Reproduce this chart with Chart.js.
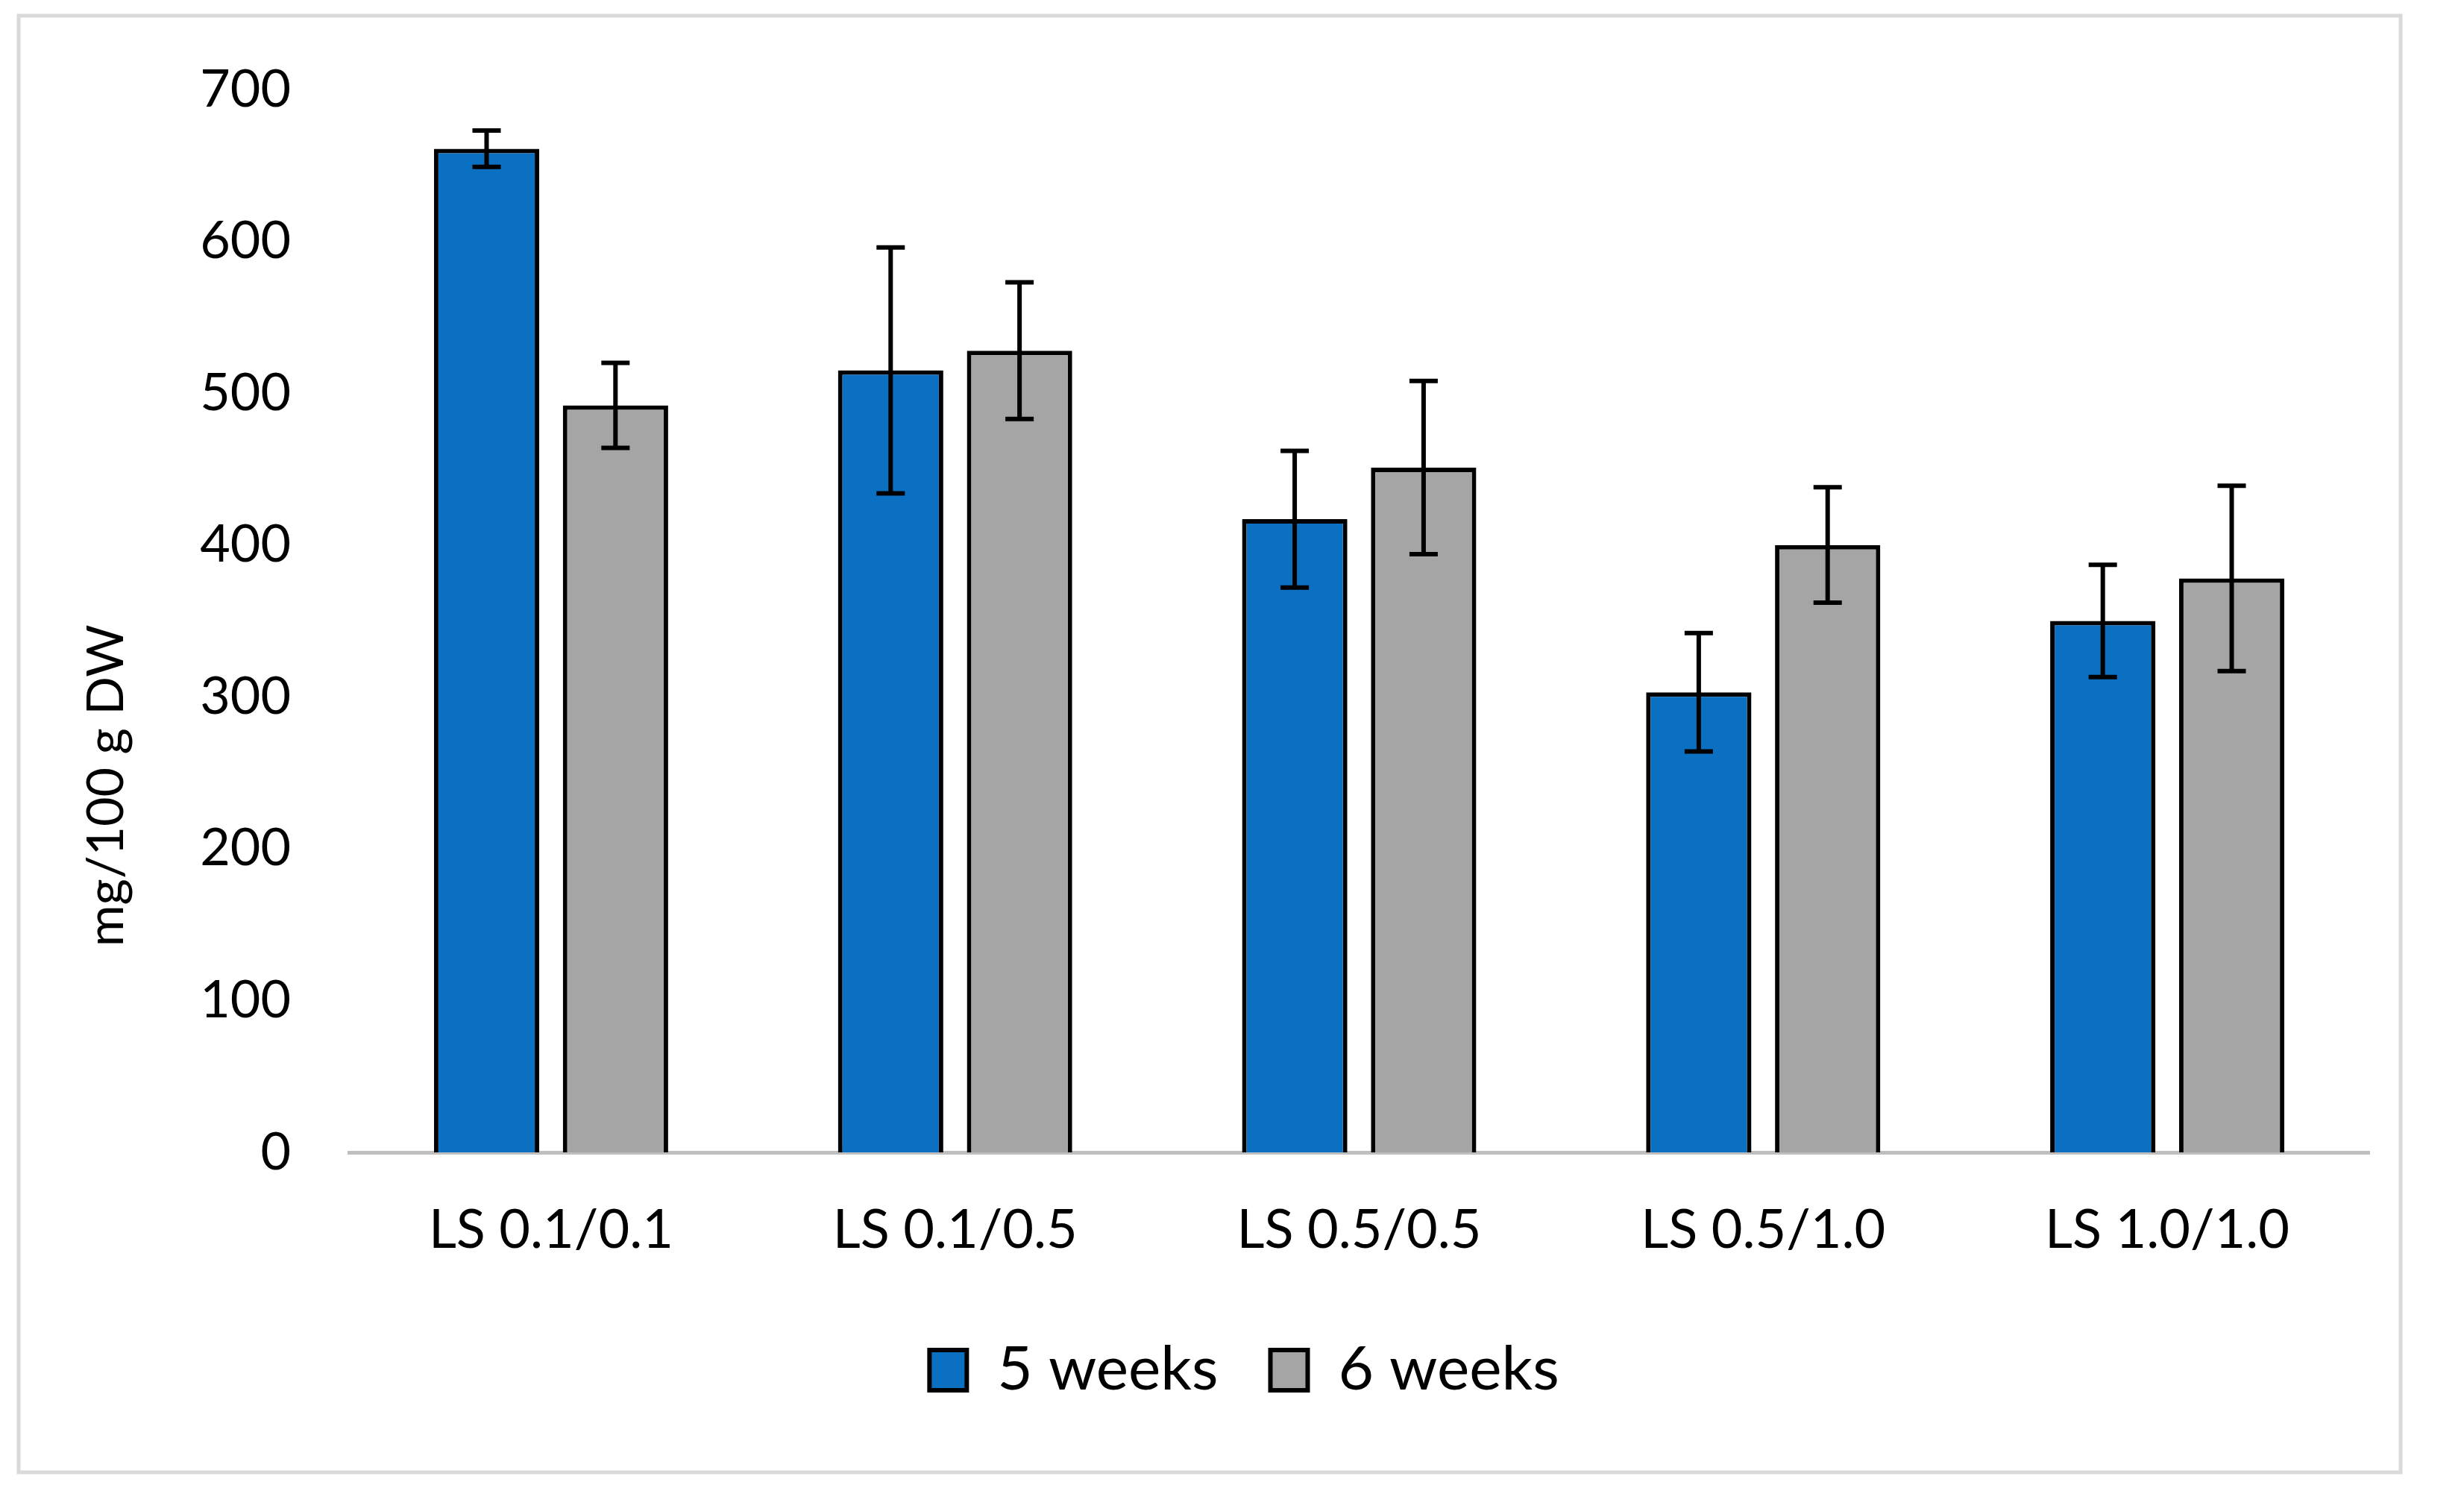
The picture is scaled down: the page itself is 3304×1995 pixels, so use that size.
<!DOCTYPE html>
<html>
<head>
<meta charset="utf-8">
<script src="https://cdn.jsdelivr.net/npm/chart.js@4.4.1/dist/chart.umd.min.js"></script>
<style>
  html, body { margin: 0; padding: 0; background: #fff; }
  canvas { display: block; }
</style>
</head>
<body>
<canvas id="chart" width="3304" height="1995"></canvas>
<script>
// Data
const categories = ['LS 0.1/0.1', 'LS 0.1/0.5', 'LS 0.5/0.5', 'LS 0.5/1.0', 'LS 1.0/1.0'];
const weeks5 = [661, 515, 417, 303, 350];
const weeks5Err = [12, 81, 45, 39, 37];
const weeks6 = [492, 528, 451, 400, 378];
const weeks6Err = [28, 45, 57, 38, 61];
const yMin = 0;
const yMax = 700;
const yStep = 100;
const yTitle = 'mg/100 g DW';

const FONT = 'Lato, "Open Sans", sans-serif';

// Light grey frame round the whole chart
const framePlugin = {
    id: 'frame',
    beforeDraw(chart) {
        const ctx = chart.ctx;
        ctx.save();
        ctx.fillStyle = '#fff';
        ctx.fillRect(0, 0, chart.width, chart.height);
        ctx.strokeStyle = '#d9d9d9';
        ctx.lineWidth = 5;
        ctx.strokeRect(25, 21, 3194, 1953);
        ctx.restore();
    }
};

// Error bars from the err arrays
const errorBarPlugin = {
    id: 'errorBars',
    afterDatasetsDraw(chart) {
        const ctx = chart.ctx;
        const y = chart.scales.y;
        ctx.save();
        ctx.strokeStyle = '#000';
        ctx.lineWidth = 6;
        chart.data.datasets.forEach((ds, i) => {
            const meta = chart.getDatasetMeta(i);
            meta.data.forEach((bar, j) => {
                const v = ds.data[j];
                const e = ds.errors[j];
                const top = y.getPixelForValue(v + e);
                const bottom = y.getPixelForValue(v - e);
                const cap = 19;
                ctx.beginPath();
                ctx.moveTo(bar.x, top);
                ctx.lineTo(bar.x, bottom);
                ctx.moveTo(bar.x - cap, top);
                ctx.lineTo(bar.x + cap, top);
                ctx.moveTo(bar.x - cap, bottom);
                ctx.lineTo(bar.x + cap, bottom);
                ctx.stroke();
            });
        });
        ctx.restore();
    }
};

// Rotated y axis title, sitting a bit below the middle like the original
const yTitlePlugin = {
    id: 'yTitle',
    afterDraw(chart) {
        const ctx = chart.ctx;
        const area = chart.chartArea;
        ctx.save();
        ctx.translate(143, area.top + (area.bottom - area.top) * 0.655);
        ctx.rotate(-Math.PI / 2);
        ctx.font = '68px ' + FONT;
        ctx.fillStyle = '#000';
        ctx.textAlign = 'center';
        ctx.textBaseline = 'middle';
        ctx.fillText(yTitle, 0, 0);
        ctx.restore();
    }
};

const ctx = document.getElementById('chart').getContext('2d');

new Chart(ctx, {
    type: 'bar',
    data: {
        labels: categories,
        datasets: [
            {
                label: '5 weeks',
                data: weeks5,
                errors: weeks5Err,
                backgroundColor: '#0b6fc2',
                borderColor: '#000',
                borderWidth: 6
            },
            {
                label: '6 weeks',
                data: weeks6,
                errors: weeks6Err,
                backgroundColor: '#a5a5a5',
                borderColor: '#000',
                borderWidth: 6
            }
        ]
    },
    options: {
        responsive: false,
        devicePixelRatio: 1,
        animation: false,
        categoryPercentage: 0.638,
        barPercentage: 0.817,
        layout: {
            padding: { top: 120, left: 160, right: 127, bottom: 107 }
        },
        plugins: {
            title: { display: false },
            tooltip: { enabled: false },
            legend: {
                display: true,
                position: 'bottom',
                labels: {
                    color: '#000',
                    font: { family: FONT, size: 82 },
                    boxWidth: 50,
                    boxHeight: 54,
                    padding: 70
                }
            }
        },
        scales: {
            x: {
                grid: { display: false, drawTicks: false },
                border: { display: true, color: '#bfbfbf', width: 5 },
                ticks: {
                    color: '#000',
                    font: { family: FONT, size: 72 },
                    padding: 62,
                    maxRotation: 0
                },
                afterFit(scale) { scale.height = 181; }
            },
            y: {
                min: yMin,
                max: yMax,
                grid: { display: false, drawTicks: false },
                border: { display: false },
                ticks: {
                    stepSize: yStep,
                    color: '#000',
                    font: { family: FONT, size: 70 },
                    padding: 78
                },
                afterFit(scale) { scale.width = 308; }
            }
        }
    },
    plugins: [framePlugin, errorBarPlugin, yTitlePlugin]
});
</script>
</body>
</html>
